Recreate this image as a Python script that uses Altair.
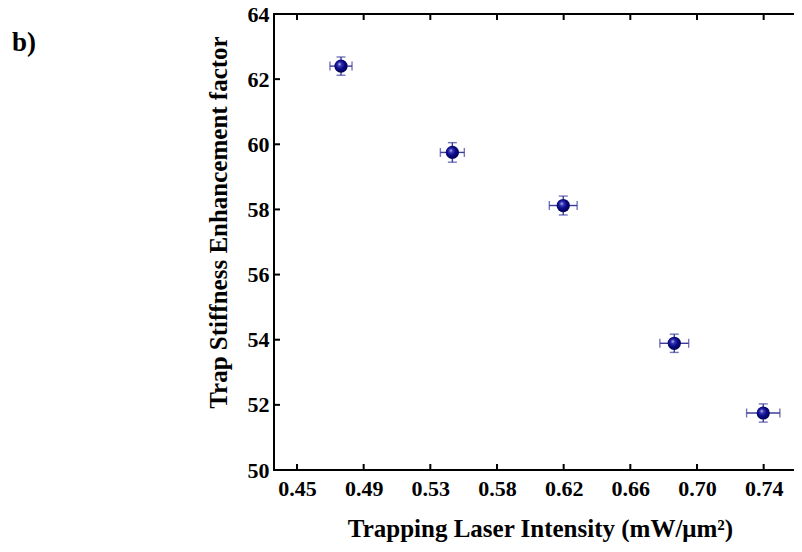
import altair as alt
import pandas as pd

# ---- data ----
intensity = [0.4775, 0.5471, 0.6164, 0.6858, 0.7414]
intensity_err = [0.0069, 0.0075, 0.0087, 0.0090, 0.0104]
factor = [62.40, 59.75, 58.12, 53.89, 51.75]
factor_err = [0.28, 0.30, 0.29, 0.28, 0.28]

x_tick_values = [0.45, 0.491667, 0.533333, 0.575, 0.616667, 0.658333, 0.70, 0.741667]
x_tick_labels = ["0.45", "0.49", "0.53", "0.58", "0.62", "0.66", "0.70", "0.74"]
y_tick_values = [50, 52, 54, 56, 58, 60, 62, 64]

x_domain = [0.43563, 0.76063]
y_domain = [50, 64]

W, H = 520, 456
FONT = "Liberation Serif"

df = pd.DataFrame({
    "x": intensity, "y": factor,
    "xlo": [a - b for a, b in zip(intensity, intensity_err)],
    "xhi": [a + b for a, b in zip(intensity, intensity_err)],
    "ylo": [a - b for a, b in zip(factor, factor_err)],
    "yhi": [a + b for a, b in zip(factor, factor_err)],
})
xt = pd.DataFrame({"v": x_tick_values})
yt = pd.DataFrame({"v": y_tick_values})

label_js = "[" + ",".join("'%s'" % s for s in x_tick_labels) + "]"
xscale = alt.Scale(domain=x_domain, nice=False, zero=False)
yscale = alt.Scale(domain=y_domain, nice=False, zero=False)

xaxis = alt.Axis(
    values=x_tick_values,
    labelExpr=label_js + "[round((datum.value-0.45)/0.0416667)]",
    title="Trapping Laser Intensity (mW/μm²)",
    domain=False, ticks=False, grid=False,
    labelFont=FONT, labelFontWeight="bold", labelFontSize=22, labelColor="black",
    labelPadding=8, labelFlush=False, labelOverlap=False,
    titleFont=FONT, titleFontWeight="bold", titleFontSize=25, titleColor="black",
    titleBaseline="alphabetic", titleAlign="center", titleX=266, titleY=66,
)
yaxis = alt.Axis(
    values=y_tick_values, format="d",
    title="Trap Stiffness Enhancement factor",
    domain=False, ticks=False, grid=False,
    labelFont=FONT, labelFontWeight="bold", labelFontSize=22, labelColor="black",
    labelPadding=5, labelFlush=False, labelOverlap=False,
    titleFont=FONT, titleFontWeight="bold", titleFontSize=25, titleColor="black",
    titlePadding=16, titleY=208,
)

base = alt.Chart(df)

points_axes = base.mark_point(opacity=0).encode(
    x=alt.X("x:Q", scale=xscale, axis=xaxis),
    y=alt.Y("y:Q", scale=yscale, axis=yaxis),
)

ERR = "#3c3c9c"
hbar = base.mark_rule(color=ERR, strokeWidth=1.4).encode(
    x="xlo:Q", x2="xhi:Q", y="y:Q")
vbar = base.mark_rule(color=ERR, strokeWidth=1.4).encode(
    x="x:Q", y="ylo:Q", y2="yhi:Q")
cap_l = base.mark_tick(color=ERR, orient="vertical", size=9, thickness=1.4).encode(
    x="xlo:Q", y="y:Q")
cap_r = base.mark_tick(color=ERR, orient="vertical", size=9, thickness=1.4).encode(
    x="xhi:Q", y="y:Q")
cap_b = base.mark_tick(color=ERR, orient="horizontal", size=9, thickness=1.4).encode(
    x="x:Q", y="ylo:Q")
cap_t = base.mark_tick(color=ERR, orient="horizontal", size=9, thickness=1.4).encode(
    x="x:Q", y="yhi:Q")

grad = alt.RadialGradient(
    gradient="radial",
    x1=0.38, y1=0.35, r1=0.0,
    x2=0.45, y2=0.45, r2=0.6,
    stops=[
        alt.GradientStop(offset=0.0, color="#d8d8f8"),
        alt.GradientStop(offset=0.22, color="#3a3ab8"),
        alt.GradientStop(offset=0.55, color="#0a0a88"),
        alt.GradientStop(offset=1.0, color="#000048"),
    ],
)
balls = base.mark_point(shape="circle", filled=True, fill=grad, size=175,
                        opacity=1, strokeWidth=0).encode(x="x:Q", y="y:Q")

# frame (left, top, bottom spines; the right one lies beyond the cropped edge)
SP = 2
spine_left = alt.Chart(xt).mark_rule(color="black", strokeWidth=SP).encode(
    x=alt.value(0), y=alt.value(-1), y2=alt.value(H + 1))
spine_top = alt.Chart(xt).mark_rule(color="black", strokeWidth=SP).encode(
    x=alt.value(-1), x2=alt.value(W), y=alt.value(0))
spine_bottom = alt.Chart(xt).mark_rule(color="black", strokeWidth=SP).encode(
    x=alt.value(-1), x2=alt.value(W), y=alt.value(H))

TL = 6
xt_bottom = alt.Chart(xt).mark_rule(color="black", strokeWidth=2).encode(
    x="v:Q", y=alt.value(H), y2=alt.value(H - TL))
xt_top = alt.Chart(xt).mark_rule(color="black", strokeWidth=2).encode(
    x="v:Q", y=alt.value(0), y2=alt.value(TL))
yt_left = alt.Chart(yt).mark_rule(color="black", strokeWidth=2).encode(
    y="v:Q", x=alt.value(0), x2=alt.value(TL))

chart = alt.layer(
    points_axes, spine_left, spine_top, spine_bottom,
    xt_bottom, xt_top, yt_left,
    hbar, vbar, cap_l, cap_r, cap_b, cap_t, balls,
).properties(
    width=W, height=H,
    title=alt.TitleParams(
        "b)", anchor="start", frame="group", orient="top",
        font=FONT, fontWeight="bold", fontSize=27, color="black",
        dx=-262, dy=54, offset=0,
    ),
    autosize=alt.AutoSizeParams(type="none"),
    padding={"left": 266, "top": 6, "right": 0, "bottom": 72},
).configure(
    background="white",
    view=alt.ViewConfig(strokeWidth=0),
)

chart.save("out.html", embed_options={"renderer": "svg", "actions": False})
